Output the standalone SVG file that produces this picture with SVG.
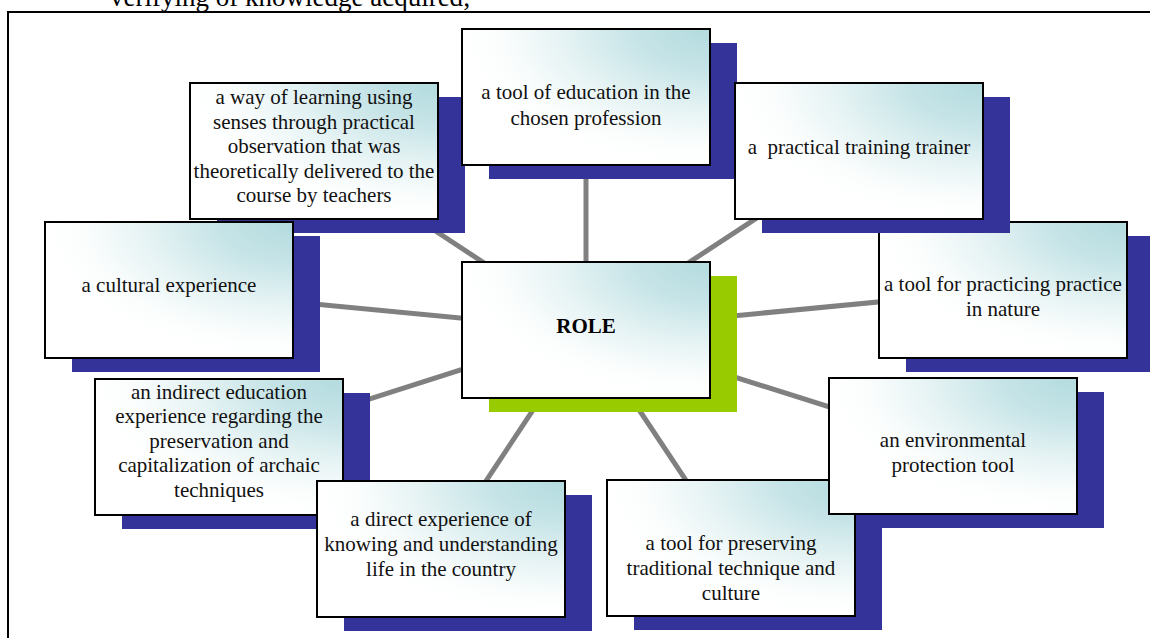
<svg xmlns="http://www.w3.org/2000/svg" width="1150" height="638" viewBox="0 0 1150 638">
  <defs>
    <radialGradient id="boxFill" cx="1" cy="0" r="1" fx="1" fy="0">
      <stop offset="0" stop-color="#B3DBDF"/>
      <stop offset="0.3" stop-color="#C6E4E7"/>
      <stop offset="0.6" stop-color="#E6F3F4"/>
      <stop offset="0.85" stop-color="#FBFDFD"/>
      <stop offset="1" stop-color="#FFFFFF"/>
    </radialGradient>
  </defs>
  <style>
    .shadow { fill: #333399; }
    .shadow-hub { fill: #99CC00; }
    .box { fill: url(#boxFill); stroke: #000; stroke-width: 2; }
    .label { font-family: "Liberation Serif", "Times New Roman", serif; font-size: 21px; fill: #111; text-anchor: middle; }
    .hub-label { font-family: "Liberation Serif", "Times New Roman", serif; font-size: 21px; font-weight: bold; fill: #000; text-anchor: middle; }
    .link { stroke: #808080; stroke-width: 5; fill: none; }
    .frame { stroke: #000; stroke-width: 2; fill: none; }
    .running { font-family: "Liberation Serif", "Times New Roman", serif; font-size: 27px; fill: #000; }
  </style>
  <rect width="1150" height="638" fill="#fff"/>

  <!-- running text line above the figure frame -->
  <text class="running" x="110" y="6">verifying of knowledge acquired;</text>
  <path class="frame" d="M1151,12 H8 V640"/>

  <!-- spokes from the hub to every node -->
  <g id="connectors">
    <line class="link" x1="586" y1="330" x2="586" y2="97"/>
    <line class="link" x1="586" y1="330" x2="859" y2="151"/>
    <line class="link" x1="586" y1="330" x2="1003" y2="290"/>
    <line class="link" x1="586" y1="330" x2="953" y2="446"/>
    <line class="link" x1="586" y1="330" x2="731" y2="548"/>
    <line class="link" x1="586" y1="330" x2="441" y2="549"/>
    <line class="link" x1="586" y1="330" x2="219" y2="447"/>
    <line class="link" x1="586" y1="330" x2="169" y2="290"/>
    <line class="link" x1="586" y1="330" x2="314" y2="151"/>
  </g>

  <g id="role">
    <rect class="shadow-hub" x="489" y="276" width="248" height="136"/>
    <rect class="box" x="462" y="262" width="248" height="136"/>
    <text class="hub-label" x="586" y="333">ROLE</text>
  </g>

  <g id="senses">
    <rect class="shadow" x="217" y="97" width="248" height="136"/>
    <rect class="box" x="190" y="83" width="248" height="136"/>
    <text class="label" x="314" y="104">a way of learning using</text>
    <text class="label" x="314" y="128.5">senses through practical</text>
    <text class="label" x="314" y="153">observation that was</text>
    <text class="label" x="314" y="177.5">theoretically delivered to the</text>
    <text class="label" x="314" y="202">course by teachers</text>
  </g>

  <g id="profession">
    <rect class="shadow" x="489" y="43" width="248" height="136"/>
    <rect class="box" x="462" y="29" width="248" height="136"/>
    <text class="label" x="586" y="99">a tool of education in the</text>
    <text class="label" x="586" y="124.5">chosen profession</text>
  </g>

  <g id="nature">
    <rect class="shadow" x="906" y="236" width="248" height="136"/>
    <rect class="box" x="879" y="222" width="248" height="136"/>
    <text class="label" x="1003" y="291">a tool for practicing practice</text>
    <text class="label" x="1003" y="316">in nature</text>
  </g>

  <g id="trainer">
    <rect class="shadow" x="762" y="97" width="248" height="136"/>
    <rect class="box" x="735" y="83" width="248" height="136"/>
    <text class="label" x="859" y="154" style="white-space:pre">a  practical training trainer</text>
  </g>

  <g id="cultural">
    <rect class="shadow" x="72" y="236" width="248" height="136"/>
    <rect class="box" x="45" y="222" width="248" height="136"/>
    <text class="label" x="169" y="292">a cultural experience</text>
  </g>

  <g id="archaic">
    <rect class="shadow" x="122" y="393" width="248" height="136"/>
    <rect class="box" x="95" y="379" width="248" height="136"/>
    <text class="label" x="219" y="398.5">an indirect education</text>
    <text class="label" x="219" y="423">experience regarding the</text>
    <text class="label" x="219" y="447.5">preservation and</text>
    <text class="label" x="219" y="472">capitalization of archaic</text>
    <text class="label" x="219" y="496.5">techniques</text>
  </g>

  <g id="country">
    <rect class="shadow" x="344" y="495" width="248" height="136"/>
    <rect class="box" x="317" y="481" width="248" height="136"/>
    <text class="label" x="441" y="526">a direct experience of</text>
    <text class="label" x="441" y="551">knowing and understanding</text>
    <text class="label" x="441" y="576">life in the country</text>
  </g>

  <g id="tradition">
    <rect class="shadow" x="634" y="494" width="248" height="136"/>
    <rect class="box" x="607" y="480" width="248" height="136"/>
    <text class="label" x="731" y="550">a tool for preserving</text>
    <text class="label" x="731" y="575">traditional technique and</text>
    <text class="label" x="731" y="599.5">culture</text>
  </g>

  <g id="environment">
    <rect class="shadow" x="856" y="392" width="248" height="136"/>
    <rect class="box" x="829" y="378" width="248" height="136"/>
    <text class="label" x="953" y="447">an environmental</text>
    <text class="label" x="953" y="472">protection tool</text>
  </g>
</svg>
